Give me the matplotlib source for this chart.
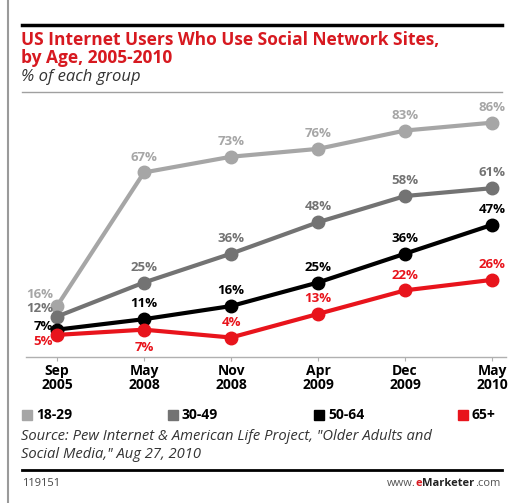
import matplotlib
matplotlib.use("Agg")
import matplotlib.pyplot as plt
from matplotlib.lines import Line2D

# data
dates = ["Sep\n2005", "May\n2008", "Nov\n2008", "Apr\n2009", "Dec\n2009", "May\n2010"]
age_groups = ["18-29", "30-49", "50-64", "65+"]
users_18_29 = [16, 67, 73, 76, 83, 86]
users_30_49 = [12, 25, 36, 48, 58, 61]
users_50_64 = [7, 11, 16, 25, 36, 47]
users_65_plus = [5, 7, 4, 13, 22, 26]

colors = ["#a6a6a6", "#737373", "#000000", "#e8141c"]
RED = "#d71920"

plt.rcParams["font.family"] = ["Open Sans", "DejaVu Sans"]

W, H = 516, 503
fig = plt.figure(figsize=(W / 100, H / 100), dpi=100)


def fx(px):
    return px / W


def fy(py):
    return 1 - py / H


# axes placed so that x=0..5 sits at px 57..492 and 0% at px 348
ax = fig.add_axes([fx(26), fy(357), fx(506) - fx(26), fy(100) - fy(357)])
ax.set_xlim(-31 / 87, 5 + 14 / 87)
ax.set_ylim(-9 / 2.62, 248 / 2.62)

series = [users_18_29, users_30_49, users_50_64, users_65_plus]
xs = list(range(len(dates)))
for vals, c in zip(series, colors):
    ax.plot(xs, vals, color=c, lw=3, marker="o", ms=9, solid_capstyle="round")

# value labels: (dx, dy) offsets in points
for i, (vals, c) in enumerate(zip(series, colors)):
    for j, v in enumerate(vals):
        dx, dy, ha = 0, 11, "center"
        if j == 0:
            dx, dy, ha = -3, [8, 6, 2, -5][i], "right"
        if i == 3 and j == 1:
            dy = -13
        ax.annotate(f"{v}%", (j, v), xytext=(dx, dy), textcoords="offset points",
                    ha=ha, va="center", fontsize=9.5, fontweight="bold", color=c)

ax.set_xticks(xs)
ax.set_xticklabels(dates, fontsize=10, fontweight="bold", linespacing=1.0)
ax.set_yticks([])
for s in ["top", "right", "left"]:
    ax.spines[s].set_visible(False)
ax.spines["bottom"].set_color("#b0b0b0")
ax.spines["bottom"].set_linewidth(1)
ax.tick_params(axis="x", length=3, color="#b0b0b0", pad=2)

# frame lines
fig.add_artist(Line2D([fx(8), fx(8)], [0, 1], color="#9a9a9a", lw=1.5))
fig.add_artist(Line2D([fx(22), fx(502)], [fy(25), fy(25)], color="black", lw=2.5))
fig.add_artist(Line2D([fx(22), fx(502)], [fy(92), fy(92)], color="#a0a0a0", lw=1))
fig.add_artist(Line2D([fx(22), fx(502)], [fy(470), fy(470)], color="black", lw=2))

fig.text(fx(21), fy(40), "US Internet Users Who Use Social Network Sites,",
         color=RED, fontsize=12.5, fontweight="bold", va="center")
fig.text(fx(21), fy(58), "by Age, 2005-2010",
         color=RED, fontsize=12.5, fontweight="bold", va="center")
fig.text(fx(21), fy(77), "% of each group", color="#333333", fontsize=12,
         style="italic", va="center")

# legend
leg_x = [22, 168, 314, 458]
for lab, c, x in zip(age_groups, colors, leg_x):
    fig.patches.append(plt.Rectangle((fx(x), fy(420)), fx(10), 10 / H, color=c,
                                     transform=fig.transFigure, figure=fig))
    fig.text(fx(x + 14), fy(415), lab, fontsize=10, fontweight="bold", va="center")

fig.text(fx(21), fy(437), "Source: Pew Internet & American Life Project, \"Older Adults and",
         fontsize=10.6, style="italic", color="#333333", va="center")
fig.text(fx(21), fy(454), "Social Media,\" Aug 27, 2010",
         fontsize=10.6, style="italic", color="#333333", va="center")
fig.text(fx(22), fy(483), "119151", fontsize=8, color="#444444", va="center")

# www.eMarketer.com, laid out right to left
fig.canvas.draw()
r = fig.canvas.get_renderer()
x_right = fx(500)
for txt, kw in [(".com", dict(color="#555555")),
                ("Marketer", dict(color="#222222", fontweight="bold")),
                ("e", dict(color=RED, fontweight="bold")),
                ("www.", dict(color="#555555"))]:
    t = fig.text(x_right, fy(483), txt, fontsize=8, ha="right", va="center", **kw)
    w = t.get_window_extent(r).width
    x_right -= w / W

fig.savefig("out.png", dpi=100)
